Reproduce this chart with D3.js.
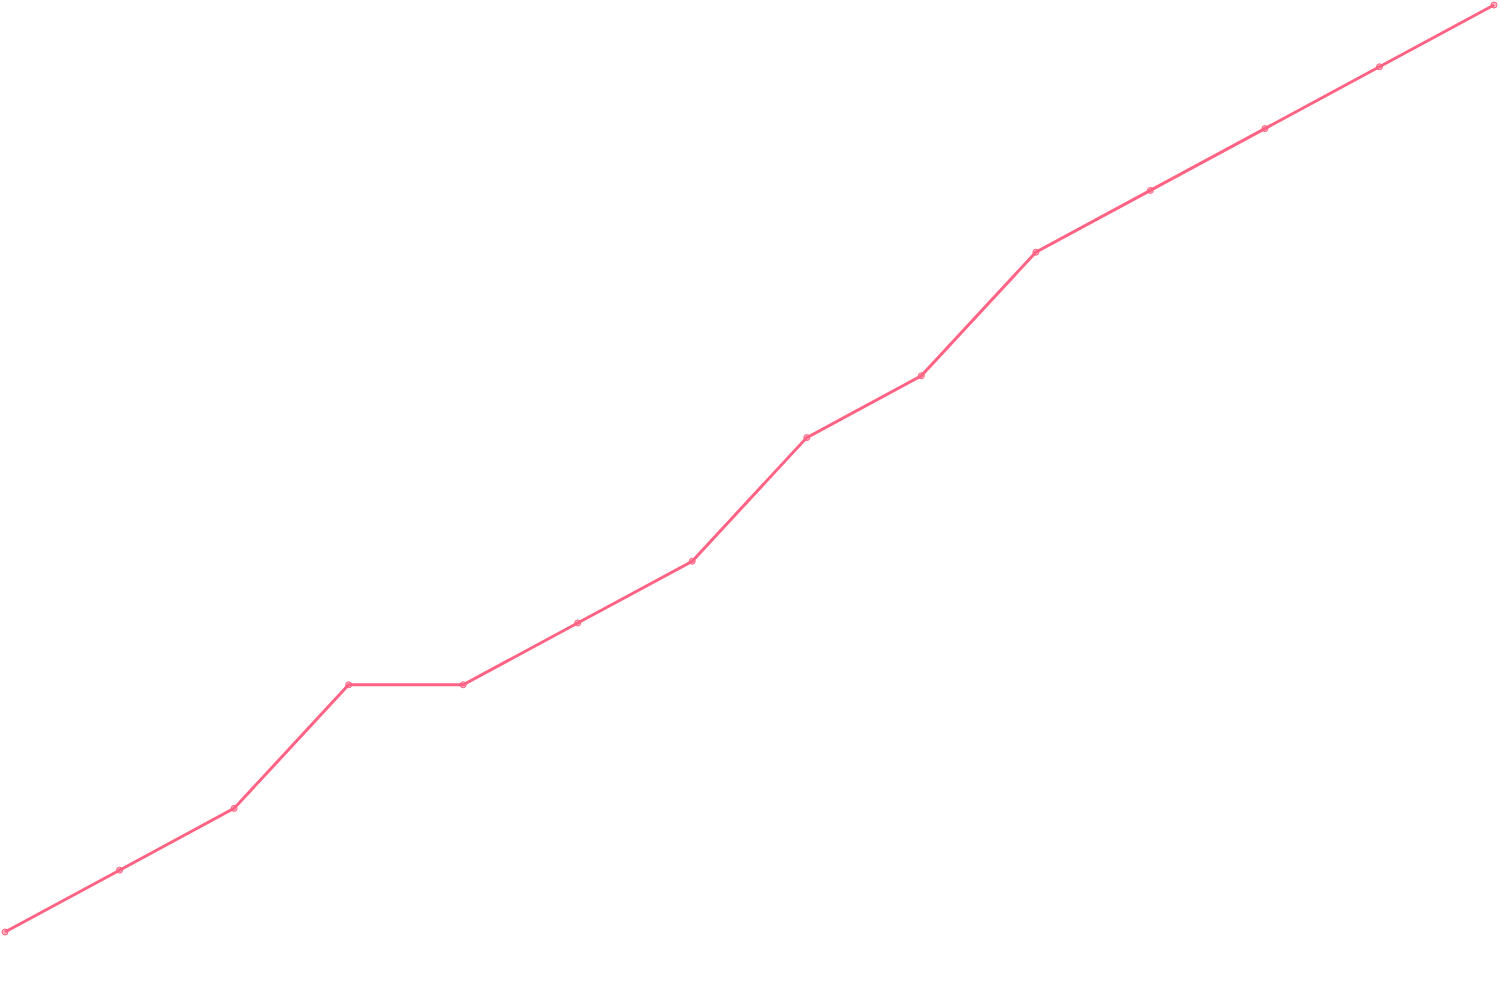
<!DOCTYPE html>
<html>
<head>
<meta charset="utf-8">
<script src="https://cdn.jsdelivr.net/npm/d3@7"></script>
<style>
  html, body { margin: 0; padding: 0; background: #fff; }
</style>
</head>
<body>
<div id="chart"></div>
<script>
// data
var labels = [1, 2, 3, 4, 5, 6, 7, 8, 9, 10, 11, 12, 13, 14];
var values = [0, 1, 2, 4, 4, 5, 6, 8, 9, 11, 12, 13, 14, 15];

var width = 1500,
    height = 1000;

var x = d3.scalePoint()
    .domain(labels)
    .range([5, 1494]);

var y = d3.scaleLinear()
    .domain([0, 15])
    .range([932, 5]);

var svg = d3.select("#chart")
    .append("svg")
    .attr("width", width)
    .attr("height", height);

var points = labels.map(function(l, i) {
    return { label: l, value: values[i] };
});

var line = d3.line()
    .x(function(d) { return x(d.label); })
    .y(function(d) { return y(d.value); });

svg.append("path")
    .datum(points)
    .attr("d", line)
    .style("fill", "none")
    .style("stroke", "rgb(255, 99, 132)")
    .style("stroke-width", 3)
    .style("stroke-linejoin", "miter");

svg.selectAll(".dot")
    .data(points)
    .enter()
    .append("circle")
    .attr("class", "dot")
    .attr("cx", function(d) { return x(d.label); })
    .attr("cy", function(d) { return y(d.value); })
    .attr("r", 3)
    .style("fill", "rgba(255, 99, 132, 0.5)")
    .style("stroke", "rgb(255, 99, 132)")
    .style("stroke-width", 1);
</script>
</body>
</html>
